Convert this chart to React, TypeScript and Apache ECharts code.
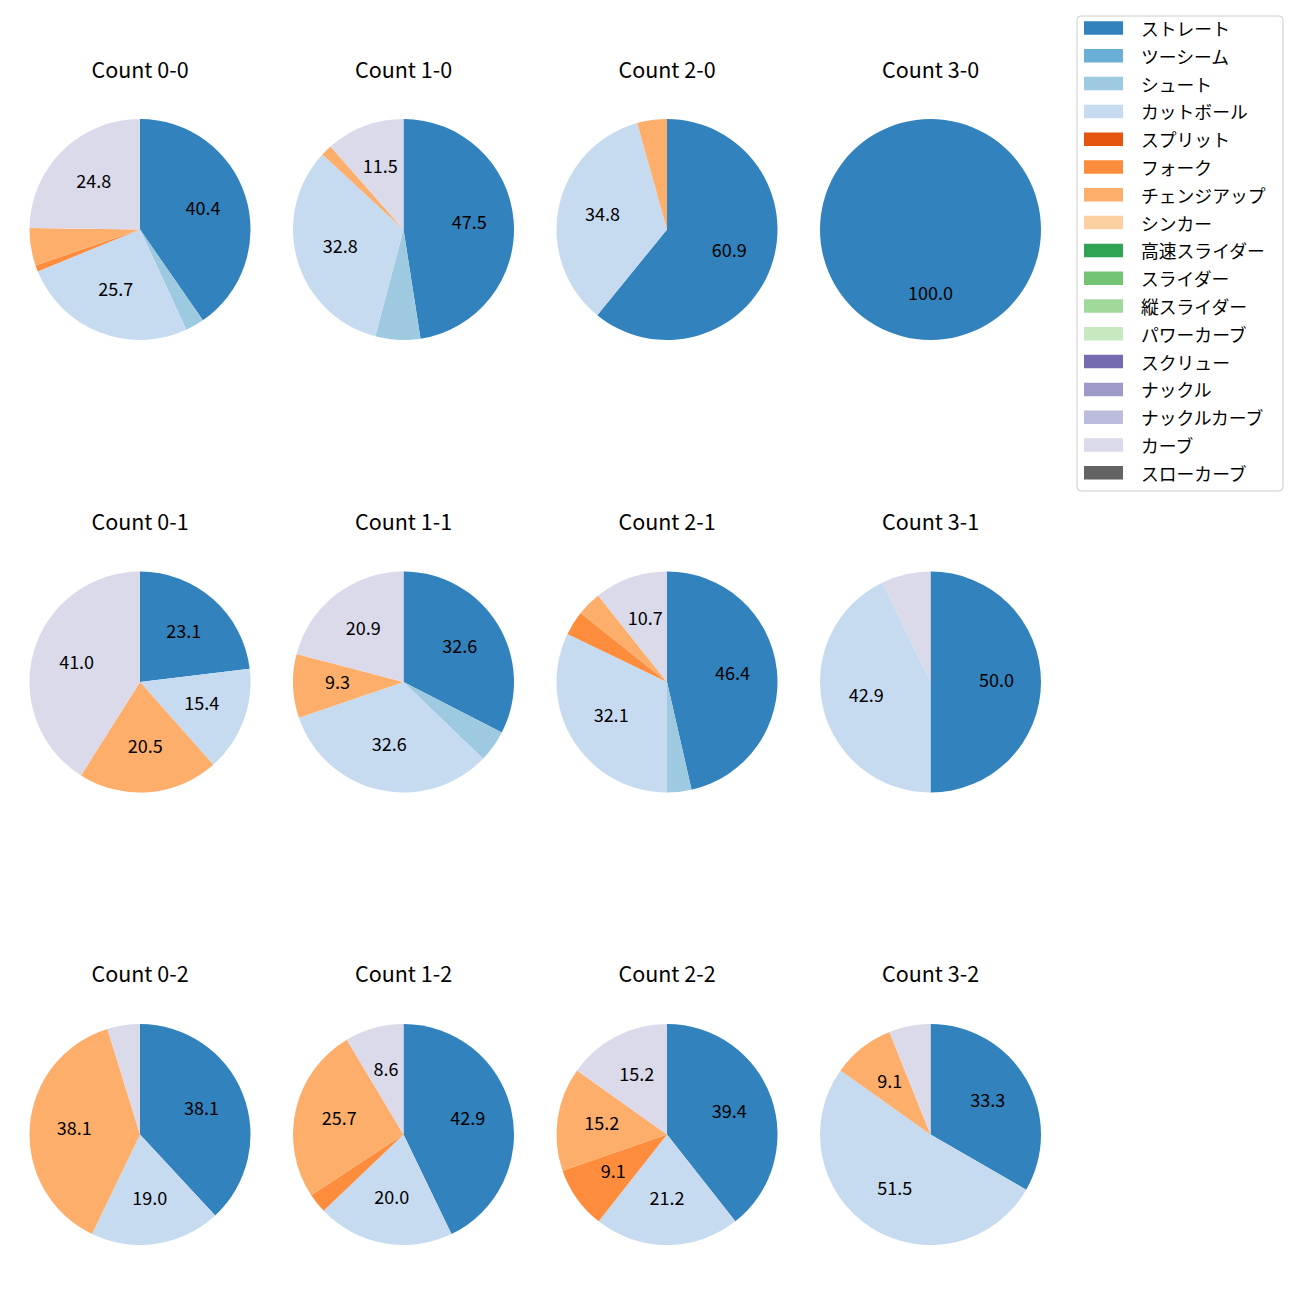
import React, { useEffect, useRef } from "react";
import * as echarts from "echarts";

// Pitch types (legend order) and their colours
const CATEGORIES = [
  "ストレート", "ツーシーム", "シュート", "カットボール", "スプリット", "フォーク",
  "チェンジアップ", "シンカー", "高速スライダー", "スライダー", "縦スライダー",
  "パワーカーブ", "スクリュー", "ナックル", "ナックルカーブ", "カーブ", "スローカーブ",
];
const COLORS = [
  "#3182bd", "#6baed6", "#9ecae1", "#c6dbef", "#e6550d", "#fd8d3c",
  "#fdae6b", "#fdd0a2", "#31a354", "#74c476", "#a1d99b",
  "#c7e9c0", "#756bb1", "#9e9ac8", "#bcbddc", "#dadaeb", "#636363",
];

// Pitch counts per ball-strike count, in CATEGORIES order
const count00 = [44, 0, 3, 28, 0, 1, 6, 0, 0, 0, 0, 0, 0, 0, 0, 27, 0];
const count10 = [29, 0, 4, 20, 0, 0, 1, 0, 0, 0, 0, 0, 0, 0, 0, 7, 0];
const count20 = [14, 0, 0, 8, 0, 0, 1, 0, 0, 0, 0, 0, 0, 0, 0, 0, 0];
const count30 = [2, 0, 0, 0, 0, 0, 0, 0, 0, 0, 0, 0, 0, 0, 0, 0, 0];
const count01 = [9, 0, 0, 6, 0, 0, 8, 0, 0, 0, 0, 0, 0, 0, 0, 16, 0];
const count11 = [14, 0, 2, 14, 0, 0, 4, 0, 0, 0, 0, 0, 0, 0, 0, 9, 0];
const count21 = [13, 0, 1, 9, 0, 1, 1, 0, 0, 0, 0, 0, 0, 0, 0, 3, 0];
const count31 = [7, 0, 0, 6, 0, 0, 0, 0, 0, 0, 0, 0, 0, 0, 0, 1, 0];
const count02 = [8, 0, 0, 4, 0, 0, 8, 0, 0, 0, 0, 0, 0, 0, 0, 1, 0];
const count12 = [15, 0, 0, 7, 0, 1, 9, 0, 0, 0, 0, 0, 0, 0, 0, 3, 0];
const count22 = [13, 0, 0, 7, 0, 3, 5, 0, 0, 0, 0, 0, 0, 0, 0, 5, 0];
const count32 = [11, 0, 0, 17, 0, 0, 3, 0, 0, 0, 0, 0, 0, 0, 0, 2, 0];

const TITLES = [
  "Count 0-0", "Count 1-0", "Count 2-0", "Count 3-0",
  "Count 0-1", "Count 1-1", "Count 2-1", "Count 3-1",
  "Count 0-2", "Count 1-2", "Count 2-2", "Count 3-2",
];
const PANELS = [
  count00, count10, count20, count30,
  count01, count11, count21, count31,
  count02, count12, count22, count32,
];

const FONT = '"Noto Sans CJK JP", "Noto Sans", sans-serif';
const COL_X = [140, 403.5, 667, 930.5];
const ROW_Y = [229.5, 682, 1134.5];
const TITLE_Y = [68, 520, 972];
const R = 110.5;
const LABEL_MIN_PCT = 8;

export default function App() {
  const ref = useRef<HTMLDivElement>(null);

  useEffect(() => {
    if (!ref.current) return;
    const chart = echarts.init(ref.current, null, { renderer: "svg" });

    const series: any[] = [];
    const labelSeries: any[] = [];
    const graphics: any[] = [];

    PANELS.forEach((vals, i) => {
      const col = i % 4;
      const row = Math.floor(i / 4);
      const cx = COL_X[col];
      const cy = ROW_Y[row];
      const total = vals.reduce((a, b) => a + b, 0);

      series.push({
        type: "pie",
        name: TITLES[i],
        center: [cx, cy],
        radius: [0, R],
        startAngle: 90,
        clockwise: true,
        avoidLabelOverlap: false,
        legendHoverLink: false,
        silent: true,
        label: { show: false },
        labelLine: { show: false },
        emphasis: { disabled: true, scale: false },
        itemStyle: { borderWidth: 0 },
        data: CATEGORIES.map((name, k) => ({
          name,
          value: vals[k],
          itemStyle: { color: COLORS[k], borderWidth: 0 },
        })),
      });

      // invisible pie whose mid-radius carries the percentage labels
      labelSeries.push({
        type: "pie",
        name: TITLES[i] + " labels",
        center: [cx, cy],
        radius: [0, R * 1.14],
        startAngle: 90,
        clockwise: true,
        avoidLabelOverlap: false,
        legendHoverLink: false,
        silent: true,
        labelLine: { show: false },
        emphasis: { disabled: true, scale: false },
        itemStyle: { color: "rgba(0,0,0,0)", borderWidth: 0 },
        label: {
          show: true,
          position: "inside",
          fontSize: 18,
          fontFamily: FONT,
          color: "#000",
          offset: [0, -3],
          formatter: (p: any) => {
            const pct = (p.value / total) * 100;
            return pct >= LABEL_MIN_PCT ? pct.toFixed(1) : "";
          },
        },
        data: CATEGORIES.map((name, k) => ({ name, value: vals[k] })).filter(
          (d) => d.value > 0
        ),
      });

      graphics.push({
        type: "text",
        x: cx,
        y: TITLE_Y[row],
        style: {
          text: TITLES[i],
          fontSize: 21.5,
          fontFamily: FONT,
          fill: "#000",
          align: "center",
          verticalAlign: "middle",
        },
      });
    });

    graphics.push({
      type: "rect",
      z: 0,
      shape: { x: 1077, y: 16, width: 206, height: 475, r: 4 },
      style: { fill: "rgba(255,255,255,0.8)", stroke: "#cccccc", lineWidth: 1 },
    });

    chart.setOption({
      animation: false,
      backgroundColor: "#ffffff",
      legend: {
        orient: "vertical",
        left: 1084,
        top: 19.1,
        padding: 0,
        itemGap: 10.0,
        itemWidth: 39,
        itemHeight: 13.5,
        icon: "rect",
        selectedMode: false,
        itemStyle: { borderWidth: 0 },
        textStyle: {
          fontSize: 17.8,
          fontFamily: FONT,
          color: "#000",
          lineHeight: 17.8,
          padding: [0, 0, 0, 13],
        },
        data: CATEGORIES,
        z: 5,
      },
      graphic: graphics,
      series: [...series, ...labelSeries],
    });

    return () => chart.dispose();
  }, []);

  return (
    <div
      ref={ref}
      style={{ position: "absolute", left: 0, top: 0, width: 1300, height: 1300 }}
    />
  );
}
